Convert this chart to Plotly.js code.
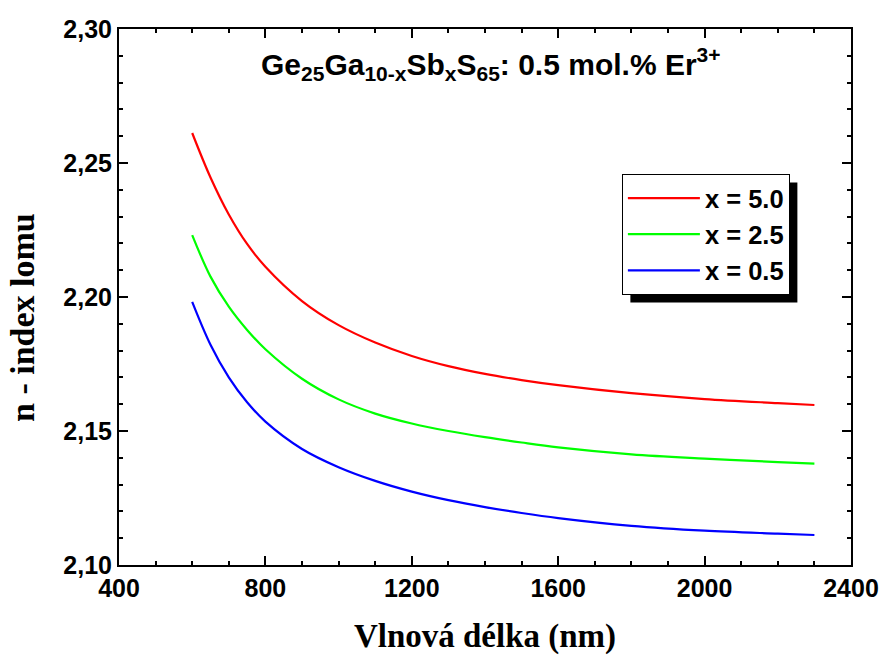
<!DOCTYPE html>
<html>
<head>
<meta charset="utf-8">
<script src="https://cdn.plot.ly/plotly-3.0.1.min.js"></script>
<style>
  html, body { margin: 0; padding: 0; background: #fff; }
  #chart { width: 883px; height: 655px; }
</style>
</head>
<body>
<div id="chart"></div>
<script>
// Wavelength grid (nm)
const wavelength = [600, 650, 700, 750, 800, 900, 1000, 1100, 1200, 1300, 1400, 1500, 1600, 1800, 2000, 2200, 2300];

// Refractive index for each Sb content
const nX50 = [2.2612, 2.2446, 2.2308, 2.2198, 2.2113, 2.1985, 2.1895, 2.1830, 2.1780, 2.1742, 2.1713, 2.1690, 2.1671, 2.1641, 2.1619, 2.1604, 2.1597];
const nX25 = [2.2231, 2.2076, 2.1964, 2.1877, 2.1805, 2.1695, 2.1618, 2.1565, 2.1528, 2.1500, 2.1477, 2.1457, 2.1439, 2.1413, 2.1397, 2.1384, 2.1378];
const nX05 = [2.1982, 2.1822, 2.1700, 2.1607, 2.1535, 2.1433, 2.1365, 2.1314, 2.1274, 2.1242, 2.1216, 2.1194, 2.1175, 2.1146, 2.1128, 2.1117, 2.1112];

const seriesNames = ['x = 5.0', 'x = 2.5', 'x = 0.5'];
const seriesColors = ['#ff0000', '#00ff00', '#0000ff'];
const seriesValues = [nX50, nX25, nX05];

const xTicks = [400, 800, 1200, 1600, 2000, 2400];
const yTicks = [2.10, 2.15, 2.20, 2.25, 2.30];

const sans = 'Liberation Sans, Arial, sans-serif';
const serif = 'Liberation Serif, Times New Roman, serif';

const traces = seriesValues.map((vals, i) => ({
  x: wavelength,
  y: vals,
  type: 'scatter',
  mode: 'lines',
  name: seriesNames[i],
  line: { color: seriesColors[i], width: 2.2, shape: 'spline', smoothing: 1 }
}));

const axisCommon = {
  showline: true,
  linecolor: '#000',
  linewidth: 2,
  mirror: 'allticks',
  ticks: 'inside',
  ticklen: 9,
  tickwidth: 2,
  tickcolor: '#000',
  showgrid: false,
  zeroline: false,
  tickfont: { family: sans, size: 25, color: '#000', weight: 'bold' }
};

const plotL = 119, plotT = 29, plotW = 732, plotH = 536;

const layout = {
  width: 883,
  height: 655,
  margin: { l: plotL, r: 883 - plotL - plotW, t: plotT, b: 655 - plotT - plotH },
  paper_bgcolor: '#fff',
  plot_bgcolor: '#fff',
  separators: ', ',
  showlegend: true,
  legend: {
    x: 0.687, y: 0.7295, xanchor: 'left', yanchor: 'top',
    bgcolor: '#fff',
    bordercolor: '#000',
    borderwidth: 1,
    font: { family: sans, size: 25.5, color: '#000', weight: 'bold' },
    itemwidth: 72,
    tracegroupgap: 0
  },
  xaxis: Object.assign({}, axisCommon, {
    range: [400, 2400],
    tickvals: xTicks,
    ticktext: xTicks.map(String),
    minor: { dtick: 100, tick0: 400, ticks: 'inside', ticklen: 4, tickwidth: 2, tickcolor: '#000' },
    title: { text: 'Vlnová délka (nm)', font: { family: serif, size: 33, color: '#000', weight: 'bold' }, standoff: 24 }
  }),
  yaxis: Object.assign({}, axisCommon, {
    range: [2.10, 2.30],
    tickvals: yTicks,
    tickformat: '.2f',
    minor: { dtick: 0.01, tick0: 2.10, ticks: 'inside', ticklen: 4, tickwidth: 2, tickcolor: '#000' }
  }),
  annotations: [{
    xref: 'paper', yref: 'paper',
    x: 0.508, y: 0.935, xanchor: 'center', yanchor: 'middle',
    showarrow: false,
    text: 'Ge<sub>25</sub>Ga<sub>10-x</sub>Sb<sub>x</sub>S<sub>65</sub>: 0.5 mol.% Er<sup>3+</sup>',
    font: { family: sans, size: 30, color: '#000', weight: 'bold' }
  }, {
    // y-axis label, set slightly below the plot's vertical centre
    xref: 'paper', yref: 'paper',
    x: -0.131, y: 0.461, xanchor: 'center', yanchor: 'middle',
    showarrow: false, textangle: -90,
    text: 'n - index lomu',
    font: { family: serif, size: 34, color: '#000', weight: 'bold' }
  }]
};

const gd = document.getElementById('chart');
Plotly.newPlot(gd, traces, layout, { displayModeBar: false, staticPlot: true }).then(() => {
  // black drop shadow offset behind the legend box
  const bg = gd.querySelector('.legend .bg');
  if (!bg) return;
  const r = bg.getBoundingClientRect();
  const c = gd.getBoundingClientRect();
  const off = 8;
  const x0 = (r.left - c.left + off - plotL) / plotW;
  const x1 = (r.right - c.left + off - plotL) / plotW;
  const y1 = (plotT + plotH - (r.top - c.top + off)) / plotH;
  const y0 = (plotT + plotH - (r.bottom - c.top + off)) / plotH;
  return Plotly.relayout(gd, {
    shapes: [{
      type: 'rect', xref: 'paper', yref: 'paper', layer: 'below',
      x0: x0, x1: x1, y0: y0, y1: y1,
      fillcolor: '#000', line: { width: 0 }
    }]
  });
});
</script>
</body>
</html>
